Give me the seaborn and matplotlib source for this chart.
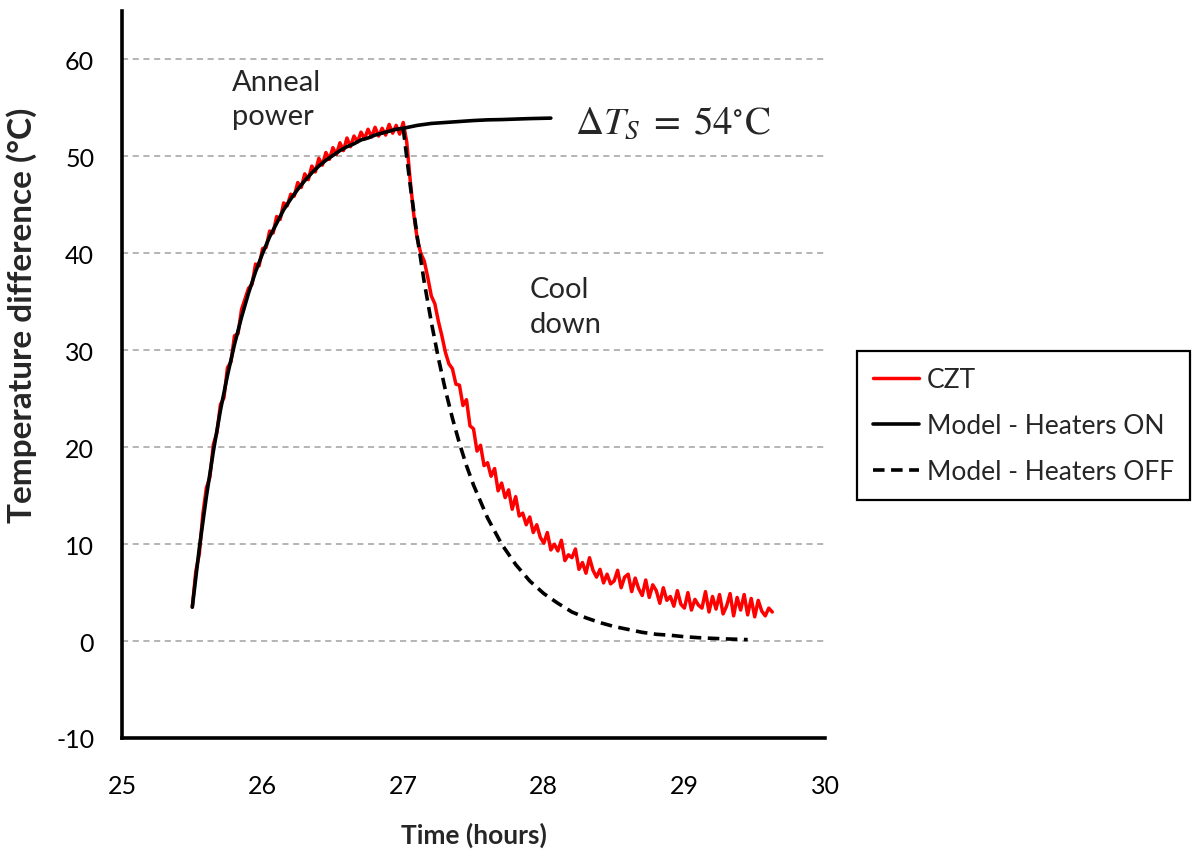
import numpy as np
import pandas as pd
import matplotlib
matplotlib.use("Agg")
import matplotlib.pyplot as plt
from matplotlib.ticker import MultipleLocator
import seaborn as sns

# ---------------- data ----------------
czt_time = [
    25.500, 25.525, 25.550, 25.575, 25.600, 25.625, 25.650, 25.675, 25.700, 25.725,
    25.750, 25.775, 25.800, 25.825, 25.850, 25.875, 25.900, 25.925, 25.950, 25.975,
    26.000, 26.025, 26.050, 26.075, 26.100, 26.125, 26.150, 26.175, 26.200, 26.225,
    26.250, 26.275, 26.300, 26.325, 26.350, 26.375, 26.400, 26.425, 26.450, 26.475,
    26.500, 26.525, 26.550, 26.575, 26.600, 26.625, 26.650, 26.675, 26.700, 26.725,
    26.750, 26.775, 26.800, 26.825, 26.850, 26.875, 26.900, 26.925, 26.950, 26.975,
    27.000, 27.025, 27.050, 27.075, 27.100, 27.125, 27.150, 27.175, 27.200, 27.225,
    27.250, 27.275, 27.300, 27.325, 27.350, 27.375, 27.400, 27.425, 27.450, 27.475,
    27.500, 27.525, 27.550, 27.575, 27.600, 27.625, 27.650, 27.675, 27.700, 27.725,
    27.750, 27.775, 27.800, 27.825, 27.850, 27.875, 27.900, 27.925, 27.950, 27.975,
    28.000, 28.025, 28.050, 28.075, 28.100, 28.125, 28.150, 28.175, 28.200, 28.225,
    28.250, 28.275, 28.300, 28.325, 28.350, 28.375, 28.400, 28.425, 28.450, 28.475,
    28.500, 28.525, 28.550, 28.575, 28.600, 28.625, 28.650, 28.675, 28.700, 28.725,
    28.750, 28.775, 28.800, 28.825, 28.850, 28.875, 28.900, 28.925, 28.950, 28.975,
    29.000, 29.025, 29.050, 29.075, 29.100, 29.125, 29.150, 29.175, 29.200, 29.225,
    29.250, 29.275, 29.300, 29.325, 29.350, 29.375, 29.400, 29.425, 29.450, 29.475,
    29.500, 29.525, 29.550, 29.575, 29.600, 29.625,
]
czt_temp = [
    3.5, 7.2, 9.0, 13.1, 15.8, 16.9, 20.3, 21.5, 24.4, 25.1,
    28.2, 28.8, 31.5, 31.7, 34.2, 35.3, 36.4, 36.8, 38.9, 38.7,
    40.5, 40.6, 42.3, 42.1, 43.8, 43.5, 45.2, 44.9, 46.1, 45.9,
    47.3, 46.8, 48.2, 47.6, 49.0, 48.4, 49.8, 49.1, 50.4, 49.7,
    50.9, 50.2, 51.4, 50.6, 51.9, 51.0, 52.1, 51.5, 52.5, 51.8,
    52.8, 52.0, 53.0, 52.1, 52.9, 52.2, 53.3, 52.4, 53.2, 52.3,
    53.5, 51.5, 47.5, 44.0, 41.5, 40.0, 39.2, 37.5, 35.6, 34.8,
    33.0, 31.5, 29.8, 28.6, 28.1, 26.5, 26.4, 24.3, 24.9, 22.2,
    21.9, 19.6, 20.2, 18.1, 18.4, 17.0, 17.8, 15.5, 16.3, 14.8,
    15.6, 13.6, 14.9, 12.9, 13.2, 12.0, 12.8, 11.2, 12.0, 10.7,
    10.1, 11.2, 9.4, 10.0, 9.3, 10.4, 8.3, 8.9, 8.6, 9.5,
    7.4, 8.1, 7.0, 8.6, 7.3, 6.6, 7.4, 6.0, 6.9, 5.9,
    6.2, 7.3, 5.5, 6.6, 6.9, 5.1, 6.5, 5.4, 4.7, 6.3,
    4.5, 5.8, 5.2, 3.9, 5.5, 4.2, 4.6, 3.6, 5.2, 3.8,
    3.4, 5.0, 3.2, 4.3, 3.7, 3.4, 5.1, 3.0, 4.6, 3.3,
    4.8, 2.8, 3.6, 4.9, 2.6, 4.5, 3.2, 4.8, 2.7, 4.4,
    2.5, 4.2, 3.1, 2.6, 3.4, 3.0,
]

on_time = [
    25.50, 25.55, 25.60, 25.65, 25.70, 25.75, 25.80, 25.85, 25.90, 25.95,
    26.00, 26.05, 26.10, 26.15, 26.20, 26.25, 26.30, 26.35, 26.40, 26.45,
    26.50, 26.55, 26.60, 26.65, 26.70, 26.75, 26.80, 26.85, 26.90, 26.95,
    27.00, 27.10, 27.20, 27.30, 27.40, 27.50, 27.60, 27.70, 27.80, 27.90, 28.05,
]
on_temp = [
    3.5, 9.6, 14.9, 19.6, 23.8, 27.4, 30.6, 33.4, 35.9, 38.1,
    40.0, 41.7, 43.1, 44.5, 45.6, 46.6, 47.5, 48.3, 49.0, 49.6,
    50.1, 50.6, 51.0, 51.3, 51.7, 51.9, 52.2, 52.4, 52.6, 52.8,
    52.9, 53.2, 53.4, 53.5, 53.6, 53.7, 53.77, 53.8, 53.85, 53.9, 53.95,
]

off_time = [
    27.00, 27.05, 27.10, 27.15, 27.20, 27.25, 27.30, 27.35, 27.40, 27.45,
    27.50, 27.60, 27.70, 27.80, 27.90, 28.00, 28.10, 28.20, 28.30, 28.40,
    28.50, 28.60, 28.70, 28.80, 28.90, 29.00, 29.10, 29.20, 29.30, 29.45,
]
off_temp = [
    52.9, 47.0, 41.7, 37.0, 32.9, 29.2, 25.9, 23.0, 20.4, 18.1,
    16.1, 12.7, 10.0, 7.9, 6.2, 4.9, 3.9, 3.0, 2.4, 1.9,
    1.5, 1.2, 0.9, 0.7, 0.6, 0.45, 0.35, 0.28, 0.22, 0.15,
]

series_labels = ["CZT", "Model - Heaters ON", "Model - Heaters OFF"]
x_ticks = [25, 26, 27, 28, 29, 30]
y_ticks = [-10, 0, 10, 20, 30, 40, 50, 60]

# ---------------- style ----------------
sns.set_theme(style="white")
plt.rcParams["font.family"] = ["Lato", "DejaVu Sans"]
plt.rcParams["mathtext.fontset"] = "stix"

fig = plt.figure(figsize=(11.98, 8.54), dpi=100)
ax = fig.add_axes([122 / 1198, 1 - 739 / 854, (825 - 122) / 1198, (739 - 12) / 854])

df_czt = pd.DataFrame({"t": czt_time, "T": czt_temp})
df_on = pd.DataFrame({"t": on_time, "T": on_temp})
df_off = pd.DataFrame({"t": off_time, "T": off_temp})

sns.lineplot(data=df_czt, x="t", y="T", ax=ax, color="#ff0000", lw=2.5,
             label=series_labels[0], sort=False, zorder=3)
sns.lineplot(data=df_on, x="t", y="T", ax=ax, color="black", lw=2.6,
             label=series_labels[1], sort=False, zorder=4)
sns.lineplot(data=df_off, x="t", y="T", ax=ax, color="black", lw=2.6,
             label=series_labels[2], sort=False, zorder=4)
ax.lines[-1].set_dashes((3.2, 1.8))

ax.set_xlim(25, 30)
ax.set_ylim(-10, 65)
ax.set_xticks(x_ticks)
ax.set_yticks(y_ticks)
ax.yaxis.set_minor_locator(MultipleLocator(5))

for yv in y_ticks[1:]:
    ax.axhline(yv, color="#a0a0a0", lw=1.1, dashes=(4, 3), zorder=1)

for side in ["top", "right"]:
    ax.spines[side].set_visible(False)
for side in ["left", "bottom"]:
    ax.spines[side].set_color("black")
    ax.spines[side].set_linewidth(2.6)

ax.tick_params(axis="both", which="major", direction="out", length=8, width=2.4,
               colors="black", labelsize=18, pad=12)
ax.tick_params(axis="y", which="minor", direction="out", length=6, width=2.4, colors="black")
ax.tick_params(axis="x", which="major", pad=18)
ax.set_xticklabels([str(v) for v in x_ticks])
ax.set_yticklabels([str(v) for v in y_ticks])

ax.set_xlabel("Time (hours)", fontsize=19, fontweight="bold", labelpad=18)
ax.set_ylabel("Temperature difference (°C)", fontsize=24, fontweight="bold")
ax.yaxis.set_label_coords(-0.121, 0.583)

ax.text(25.78, 55.9, "Anneal\npower", fontsize=21, ha="left", va="center", linespacing=1.4)
ax.text(27.90, 34.5, "Cool\ndown", fontsize=21, ha="left", va="center", linespacing=1.4)
ax.text(28.22, 53.6, r"$\Delta T_S\;=\;54^{\circ}\mathrm{C}$", fontsize=28, ha="left", va="center")

leg = ax.legend(loc="upper left", bbox_to_anchor=(857 / 1198, 1 - 352 / 854),
                bbox_transform=fig.transFigure, borderaxespad=0, fontsize=19,
                frameon=True, fancybox=False, framealpha=1, edgecolor="black",
                handlelength=1.75, handletextpad=0.3, labelspacing=0.8, borderpad=0.6)
leg.get_frame().set_linewidth(1.6)
leg_lines = leg.get_lines()
leg_lines[2].set_dashes((3.2, 1.8))

fig.savefig("out.png", dpi=100)
